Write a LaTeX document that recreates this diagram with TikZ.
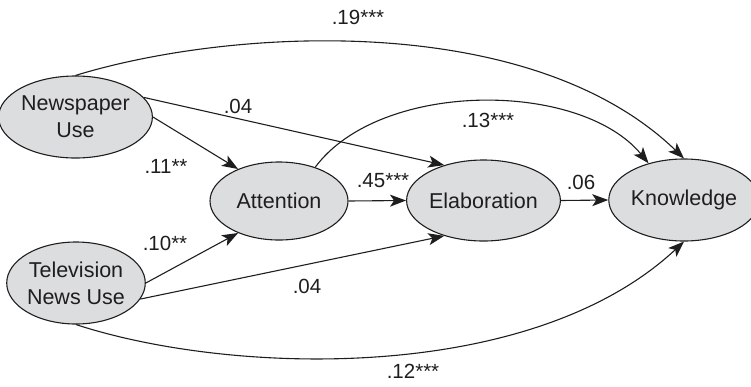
\documentclass[tikz,border=0pt]{standalone}
\usepackage{fontspec}
\setmainfont{Liberation Sans}
\usetikzlibrary{arrows.meta,shapes.geometric}
\definecolor{nodefill}{RGB}{220,221,223}
\definecolor{ink}{RGB}{30,30,30}
\begin{document}
\begin{tikzpicture}[x=1pt,y=-1pt,
  var/.style={ellipse, draw=ink, line width=1.1pt, fill=nodefill, inner sep=0pt,
    align=center, font=\fontsize{21.5}{27}\selectfont, text=ink},
  coef/.style={font=\fontsize{20.5}{22}\selectfont, text=ink, inner sep=0pt},
  arr/.style={draw=ink, line width=1.1pt, -{Stealth[length=16pt,width=12pt,inset=4pt]}}]
\useasboundingbox (0,0) rectangle (751,386);

\node[var, minimum width=137pt, minimum height=82pt] (np) at (75.5,117) {Newspaper\\Use};
\node[var, minimum width=138pt, minimum height=82pt] (tv) at (76,283) {Television\\News Use};
\node[var, minimum width=138pt, minimum height=78pt] (att) at (279,201) {Attention};
\node[var, minimum width=139pt, minimum height=81pt] (elab) at (483.5,200.5) {Elaboration};
\node[var, minimum width=130pt, minimum height=82pt] (kn) at (684,200) {Knowledge};

% direct effects
\draw[arr] (np.north) .. controls (230,28) and (530,10) .. (kn.north);
\draw[arr] (att.43) .. controls (380,80) and (580,80) .. (kn.134);
\draw[arr] (tv.south) .. controls (230,375) and (530,385) .. (kn.south);

\draw[arr] (np.east) -- (att.142);
\draw[arr] (np.16) -- (elab.138);
\draw[arr] (tv.east) -- (att.218);
\draw[arr] (tv.346) -- (elab.222);
\draw[arr] (att.east) -- (elab.west);
\draw[arr] (elab.east) -- (kn.west);

% coefficients
\node[coef] (c19) at (358,17) {.19***};
\node[coef] (c04a) at (238,106) {.04};
\node[coef] (c13) at (488,120) {.13***};
\node[coef] (c11) at (166,166) {.11**};
\node[coef] (c45) at (383,181) {.45***};
\node[coef] (c06) at (581,182) {.06};
\node[coef] (c10) at (165,243) {.10**};
\node[coef] (c04b) at (307,286) {.04};
\node[coef] (c12) at (413,371) {.12***};
\end{tikzpicture}
\end{document}
